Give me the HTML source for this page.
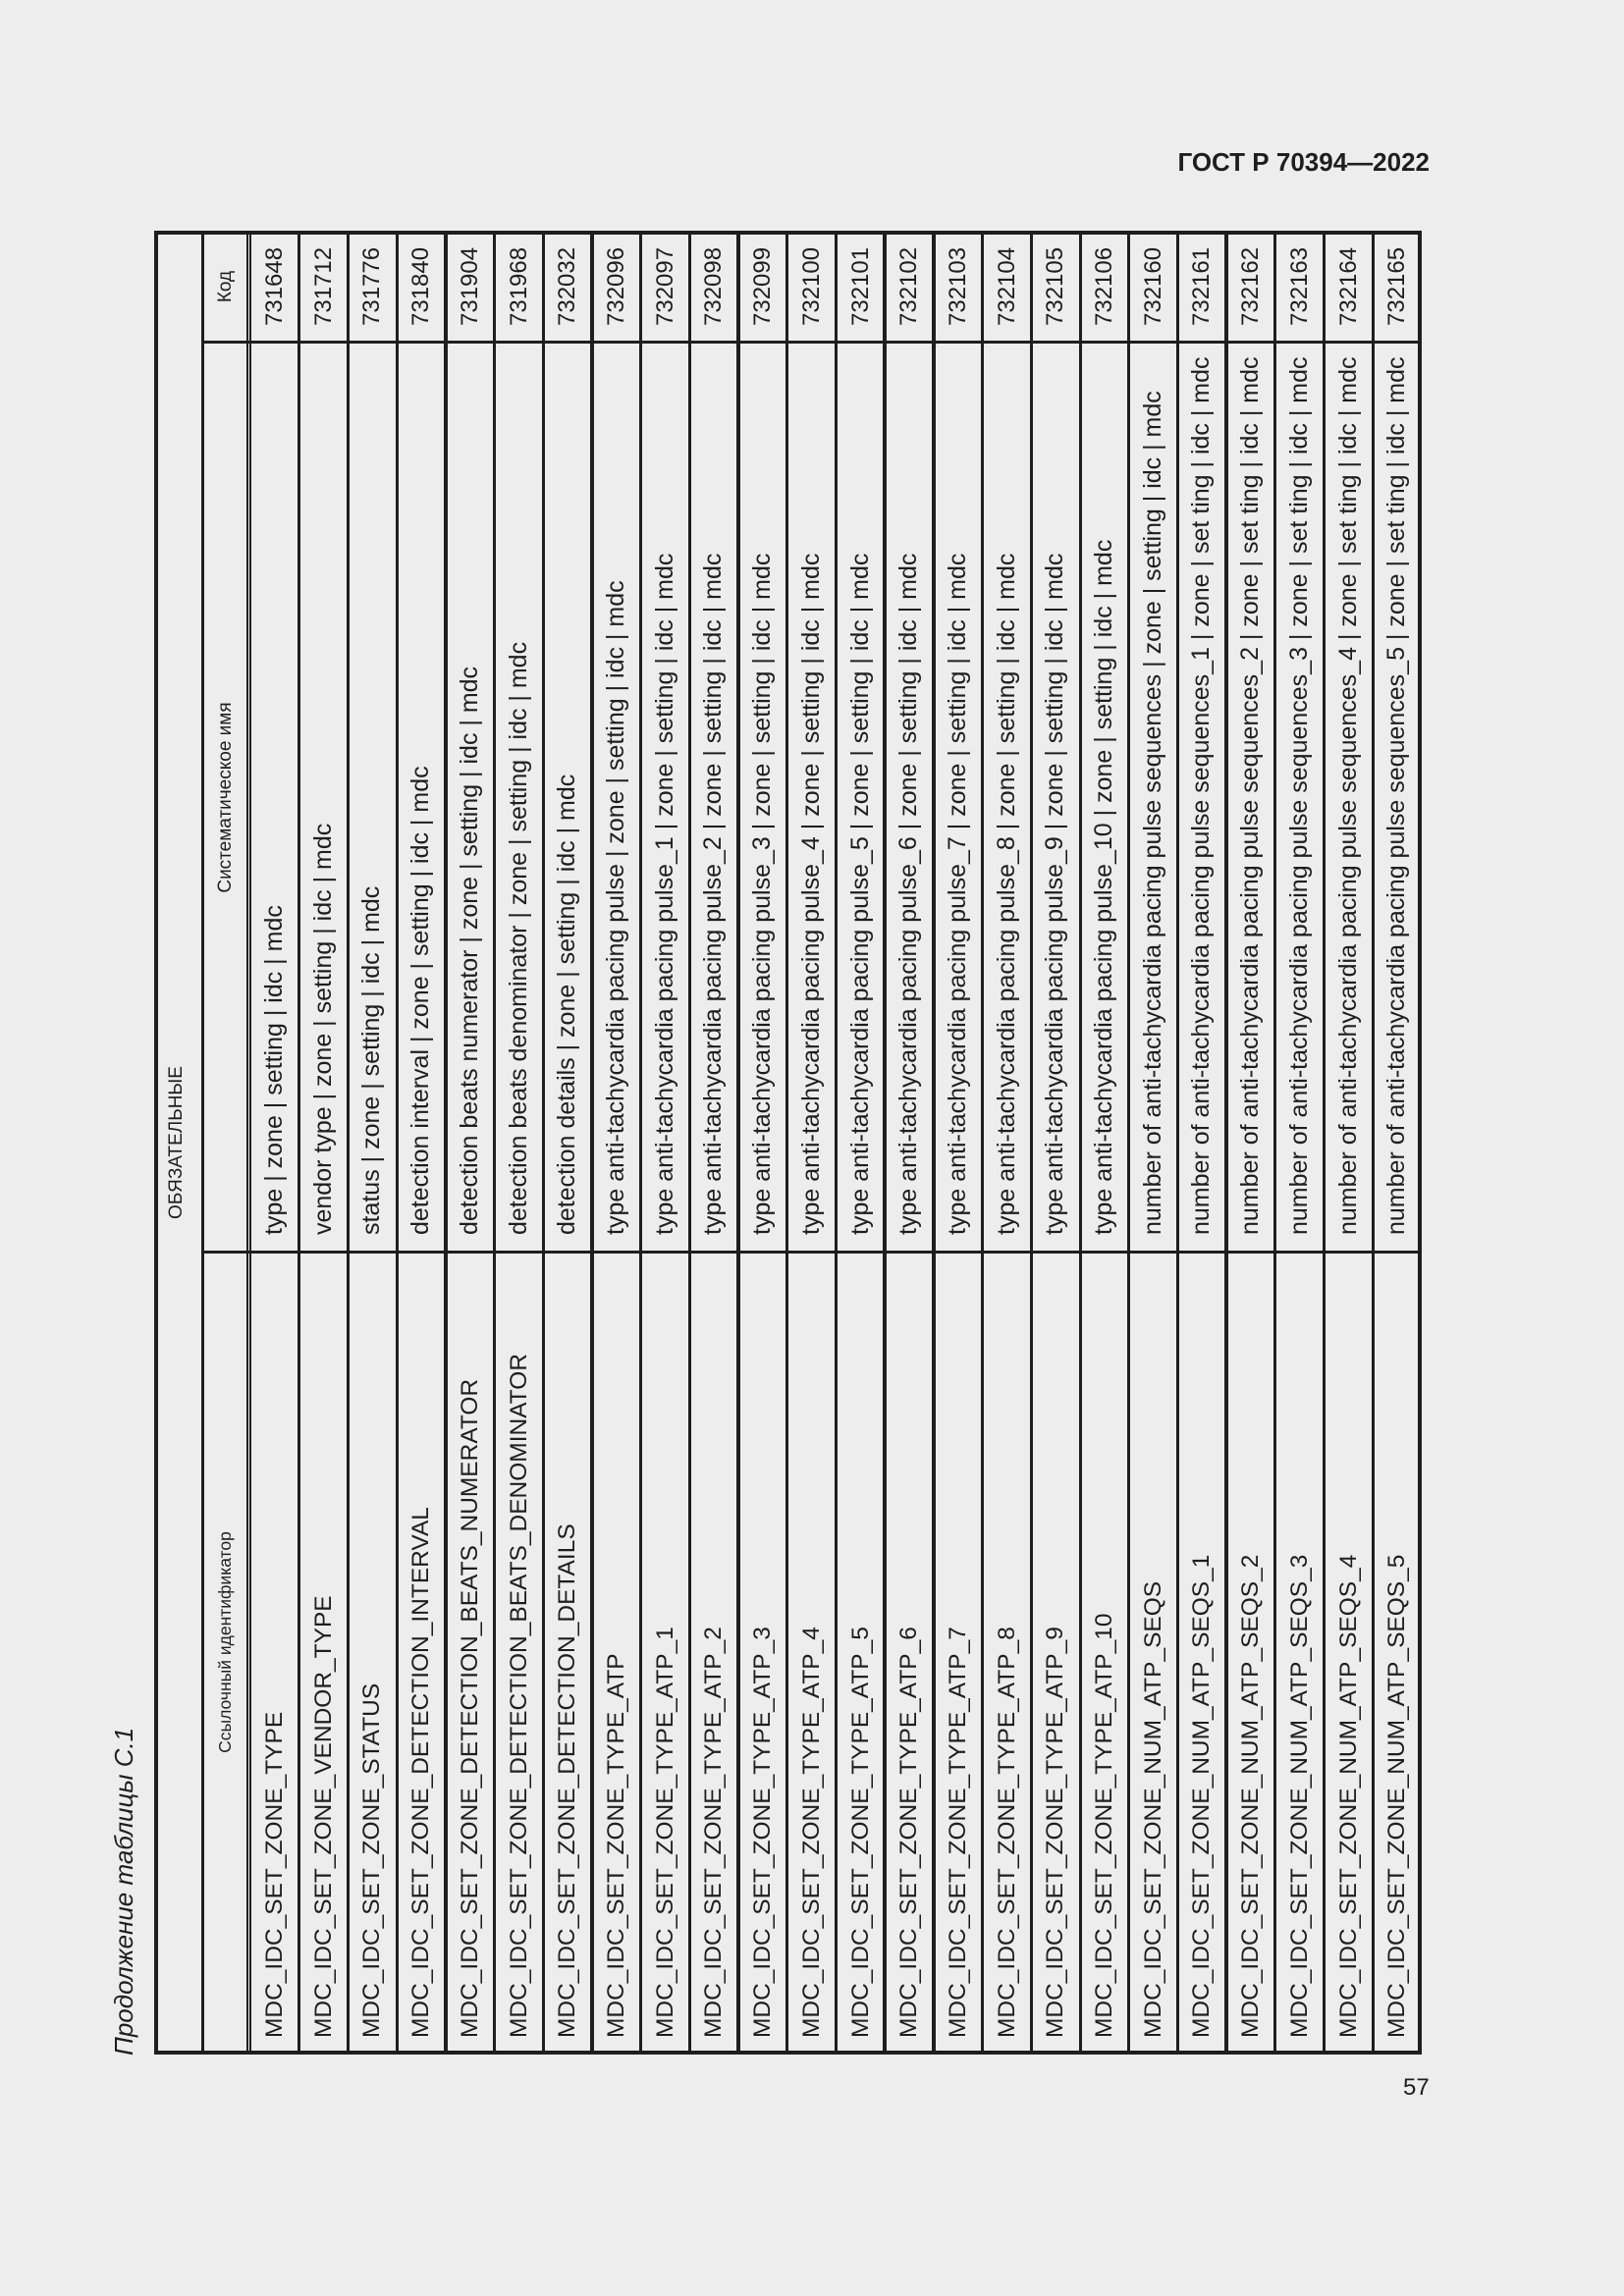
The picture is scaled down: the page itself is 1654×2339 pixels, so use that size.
<!DOCTYPE html>
<html><head><meta charset="utf-8">
<style>
html,body{margin:0;padding:0;}
body{width:1654px;height:2339px;background:#ededed;position:relative;overflow:hidden;font-family:"Liberation Sans","DejaVu Sans",sans-serif;color:#1e1e1e;}
#hdr{position:absolute;right:198px;top:150px;font-weight:bold;font-size:26px;}
#pg{position:absolute;left:1429px;top:2113px;font-size:24px;}
#cap{position:absolute;left:106px;top:2094px;transform-origin:0 0;transform:rotate(-90deg);font-style:italic;font-size:26px;white-space:nowrap;line-height:40px;}
#t{position:absolute;left:157px;top:2093px;width:1858px;height:1291px;transform-origin:0 0;transform:rotate(-90deg);}
.b{position:absolute;background:#1e1e1e;}
.c{position:absolute;white-space:nowrap;font-size:24.5px;}
.h{position:absolute;white-space:nowrap;font-size:19px;text-align:center;}
</style></head><body>
<div id="hdr">ГОСТ Р 70394—2022</div>
<div id="pg">57</div>
<div id="cap">Продолжение таблицы С.1</div>
<div id="t">
<div class="b" style="left:0;top:0;width:1858px;height:4px"></div>
<div class="b" style="left:0;top:1287px;width:1858px;height:4px"></div>
<div class="b" style="left:0;top:0;width:4px;height:1291px"></div>
<div class="b" style="left:1854px;top:0;width:4px;height:1291px"></div>
<div class="b" style="left:0;top:48px;width:1858px;height:3px"></div>
<div class="b" style="left:0;top:94px;width:1858px;height:2px"></div>
<div class="b" style="left:0;top:97px;width:1858px;height:2px"></div>
<div class="b" style="left:816px;top:48px;width:3px;height:1243px"></div>
<div class="b" style="left:1743px;top:48px;width:3px;height:1243px"></div>
<div class="h" style="left:0;top:12px;width:1858px;">ОБЯЗАТЕЛЬНЫЕ</div>
<div class="h" style="left:0;top:62px;width:840px;font-size:17.5px;">Ссылочный идентификатор</div>
<div class="h" style="left:817px;top:62px;width:927px;">Систематическое имя</div>
<div class="h" style="left:1744px;top:62px;width:114px;">Код</div>
<div id="rows"></div>
</div>
<script>
var d=[
["MDC_IDC_SET_ZONE_TYPE","type | zone | setting | idc | mdc","731648"],
["MDC_IDC_SET_ZONE_VENDOR_TYPE","vendor type | zone | setting | idc | mdc","731712"],
["MDC_IDC_SET_ZONE_STATUS","status | zone | setting | idc | mdc","731776"],
["MDC_IDC_SET_ZONE_DETECTION_INTERVAL","detection interval | zone | setting | idc | mdc","731840"],
["MDC_IDC_SET_ZONE_DETECTION_BEATS_NUMERATOR","detection beats numerator | zone | setting | idc | mdc","731904"],
["MDC_IDC_SET_ZONE_DETECTION_BEATS_DENOMINATOR","detection beats denominator | zone | setting | idc | mdc","731968"],
["MDC_IDC_SET_ZONE_DETECTION_DETAILS","detection details | zone | setting | idc | mdc","732032"],
["MDC_IDC_SET_ZONE_TYPE_ATP","type anti-tachycardia pacing pulse | zone | setting | idc | mdc","732096"]];
for(var i=1;i<=10;i++)d.push(["MDC_IDC_SET_ZONE_TYPE_ATP_"+i,"type anti-tachycardia pacing pulse_"+i+" | zone | setting | idc | mdc",String(732096+i)]);
d.push(["MDC_IDC_SET_ZONE_NUM_ATP_SEQS","number of anti-tachycardia pacing pulse sequences | zone | setting | idc | mdc","732160"]);
for(var i=1;i<=5;i++)d.push(["MDC_IDC_SET_ZONE_NUM_ATP_SEQS_"+i,"number of anti-tachycardia pacing pulse sequences_"+i+" | zone | set ting | idc | mdc",String(732160+i)]);
var thick={4:1,7:1,10:1,13:1,14:1,20:1};
var h="",rh=(1291-98)/24;
for(var i=0;i<d.length;i++){
 var v=98+i*rh;
 if(i>0){var w=thick[i]?4:3;h+='<div class="b" style="left:0;top:'+(v-w/2)+'px;width:1858px;height:'+w+'px"></div>';}
 var s='top:'+v+'px;height:'+rh+'px;line-height:'+rh+'px;';
 h+='<div class="c" style="left:17px;'+s+'">'+d[i][0]+'</div>';
 h+='<div class="c" style="left:835px;'+s+'font-size:25px">'+d[i][1]+'</div>';
 h+='<div class="c" style="left:1761px;'+s+'font-size:24px">'+d[i][2]+'</div>';
}
document.getElementById("rows").innerHTML=h;
</script>
</body></html>
